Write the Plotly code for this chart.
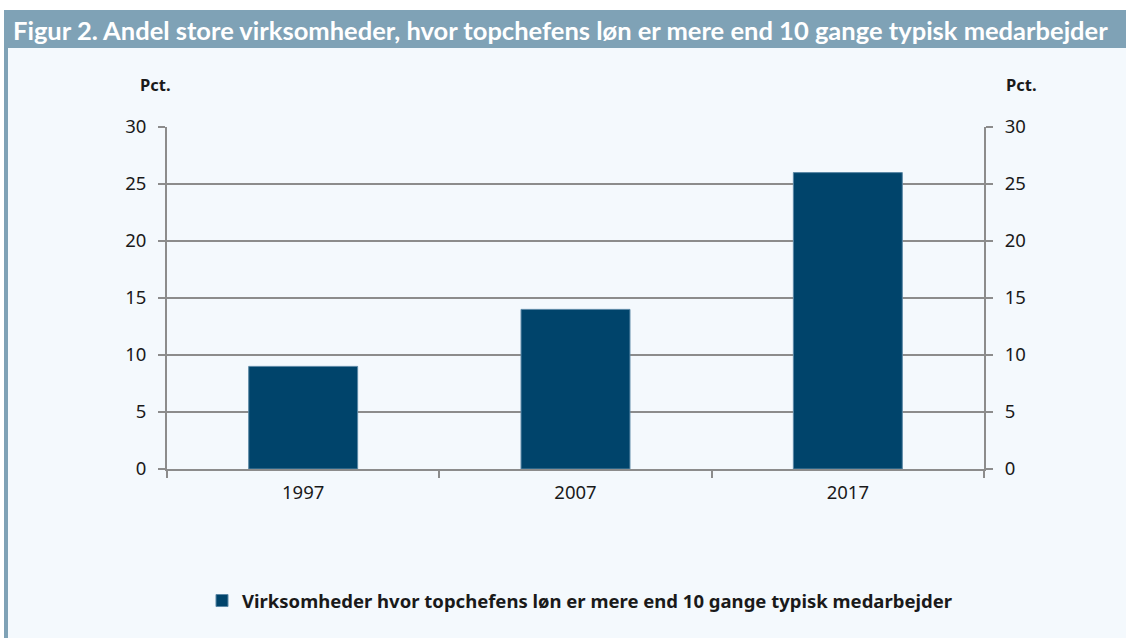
import plotly.graph_objects as go

categories = ["1997", "2007", "2017"]
values = [9, 14, 26]
series_name = "Virksomheder hvor topchefens løn er mere end 10 gange typisk medarbejder"
title_text = "Figur 2. Andel store virksomheder, hvor topchefens løn er mere end 10 gange typisk medarbejder"
y_ticks = [0, 5, 10, 15, 20, 25, 30]
axis_unit = "Pct."

W, H = 1126, 638
ML, MR, MT, MB = 167, 142, 127, 169
PW, PH = W - ML - MR, H - MT - MB

def px(x):
    return (x - ML) / PW

def py(y):
    return (H - MB - y) / PH

BAR = "#00446b"
GRID = "#8c8c8c"
BG = "#f4f9fd"
BAND = "#7fa2b6"
FONT = "Noto Sans"
TXT = "#1a1a1a"

fig = go.Figure()
fig.add_trace(go.Bar(
    x=categories, y=values, name=series_name,
    marker=dict(color=BAR, line=dict(color="#5b88a6", width=1)),
    showlegend=True,
))

tickfont = dict(size=18.5, family=FONT, color=TXT)

fig.update_layout(
    width=W, height=H,
    margin=dict(l=ML, r=MR, t=MT, b=MB),
    paper_bgcolor="white",
    plot_bgcolor="rgba(0,0,0,0)",
    bargap=0.6,
    font=dict(family=FONT, size=16, color=TXT),
    xaxis=dict(
        type="category", tickson="boundaries", ticks="outside", ticklen=7,
        tickcolor=GRID, tickwidth=2, showline=True, linecolor=GRID, linewidth=2,
        showgrid=False, tickfont=tickfont, ticklabelstandoff=6,
    ),
    yaxis=dict(
        range=[0, 30], tickvals=y_ticks, ticks="outside", ticklen=7,
        tickcolor=GRID, tickwidth=2, showline=True, linecolor=GRID, linewidth=2,
        showgrid=True, gridcolor=GRID, gridwidth=1.5, zeroline=False,
        tickfont=tickfont, ticklabelstandoff=8,
    ),
    yaxis2=dict(
        range=[0, 30], tickvals=y_ticks, overlaying="y", side="right",
        ticks="outside", ticklen=7, tickcolor=GRID, tickwidth=2,
        showline=True, linecolor=GRID, linewidth=2, showgrid=False, zeroline=False,
        tickfont=tickfont, ticklabelstandoff=8,
    ),
    legend=dict(
        orientation="h", x=px(580), xanchor="center", y=py(601), yanchor="middle",
        font=dict(family=FONT, size=18.5, color=TXT, weight="bold"),
        bgcolor="rgba(0,0,0,0)", itemwidth=30,
    ),
    shapes=[
        dict(type="rect", xref="paper", yref="paper", x0=px(8), x1=px(W), y0=py(48), y1=py(H),
             fillcolor=BG, line=dict(width=0), layer="below"),
        dict(type="rect", xref="paper", yref="paper", x0=px(4), x1=px(W), y0=py(10), y1=py(48),
             fillcolor=BAND, line=dict(width=0), layer="below"),
        dict(type="rect", xref="paper", yref="paper", x0=px(4), x1=px(8), y0=py(48), y1=py(H),
             fillcolor=BAND, line=dict(width=0), layer="below"),
    ],
    annotations=[
        dict(text="<b>" + title_text + "</b>", xref="paper", yref="paper", x=px(11), y=py(30),
             xanchor="left", yanchor="middle", showarrow=False,
             font=dict(family="Lato", size=25.5, color="white")),
        dict(text="<b>" + axis_unit + "</b>", xref="paper", yref="paper", x=px(155), y=py(84),
             xanchor="center", yanchor="middle", showarrow=False,
             font=dict(family=FONT, size=16.5, color=TXT)),
        dict(text="<b>" + axis_unit + "</b>", xref="paper", yref="paper", x=px(1021), y=py(84),
             xanchor="center", yanchor="middle", showarrow=False,
             font=dict(family=FONT, size=16.5, color=TXT)),
    ],
)

# invisible trace to anchor the right axis
fig.add_trace(go.Bar(x=categories, y=[None] * len(categories), yaxis="y2", showlegend=False,
                     hoverinfo="skip"))

fig.write_html("out.html", config={"displayModeBar": False},
               post_script="document.body.style.margin='0';document.body.style.overflow='hidden';")
